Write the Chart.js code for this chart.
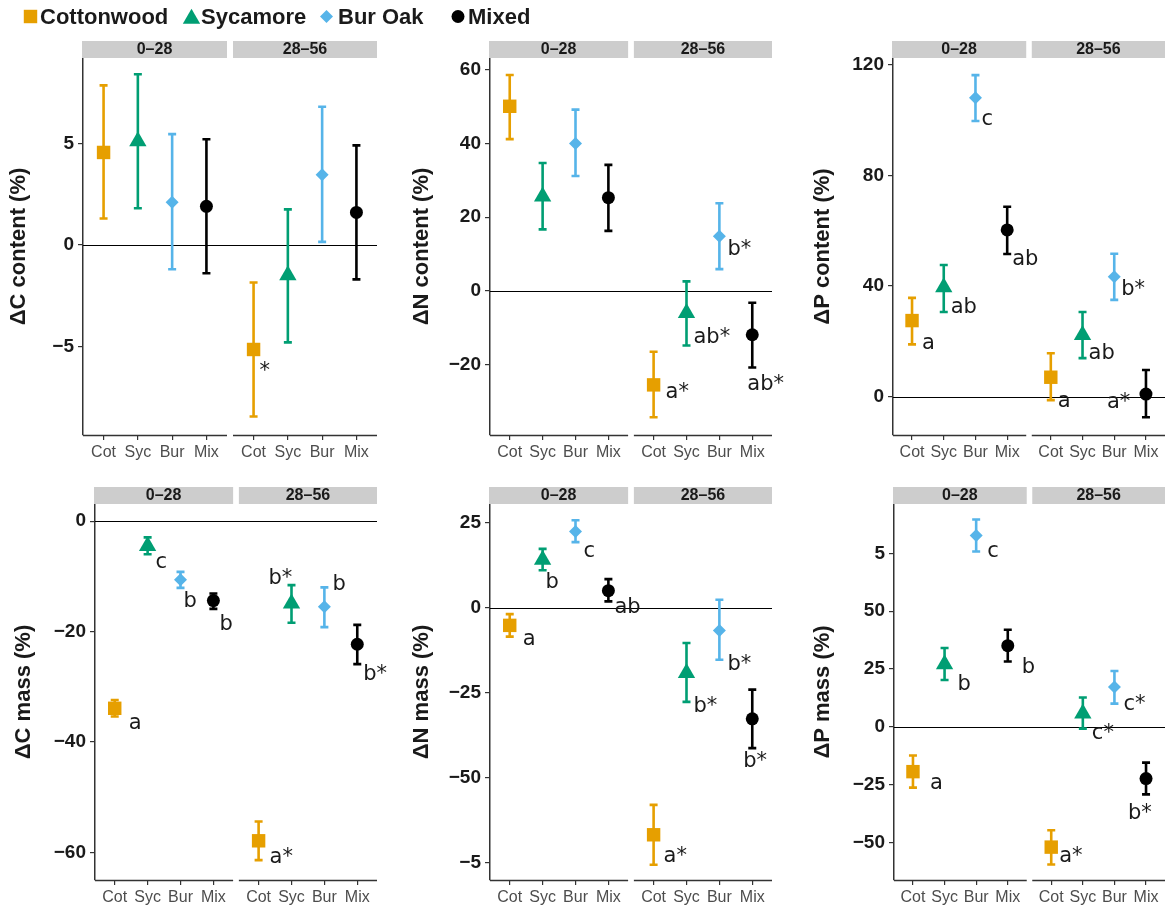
<!DOCTYPE html>
<html>
<head>
<meta charset="utf-8">
<title>Litter C, N, P change</title>
<script src="https://cdn.jsdelivr.net/npm/chart.js@4.4.1/dist/chart.umd.min.js"></script>
<style>
  html, body { margin: 0; padding: 0; background: #fff; }
  body { width: 1175px; height: 909px; position: relative; overflow: hidden; }
  canvas { position: absolute; }
  #legend { z-index: 5; left: 0; top: 0; }
</style>
</head>
<body>
<canvas id="legend" width="600" height="34"></canvas>
<canvas id="cContent"></canvas>
<canvas id="nContent"></canvas>
<canvas id="pContent"></canvas>
<canvas id="cMass"></canvas>
<canvas id="nMass"></canvas>
<canvas id="pMass"></canvas>
<script>
// categories and series
var categories = ['Cot', 'Syc', 'Bur', 'Mix'];
var facets = ['0–28', '28–56'];
var species = ['Cottonwood', 'Sycamore', 'Bur Oak', 'Mixed'];
var speciesColors = ['#E69F00', '#009E73', '#56B4E9', '#000000'];
var speciesShapes = ['rect', 'triangle', 'rectRot', 'circle'];
var speciesSizes = [9.5, 10, 6.5, 6.5];

// values: [facet 0–28, facet 28–56], each [Cot, Syc, Bur, Mix]
var cContentMean = [[4.55, 5.1, 2.1, 1.9], [-5.15, -1.5, 3.45, 1.6]];
var cContentLo = [[1.3, 1.8, -1.2, -1.4], [-8.45, -4.8, 0.15, -1.7]];
var cContentHi = [[7.85, 8.4, 5.45, 5.2], [-1.85, 1.75, 6.8, 4.9]];
var cContentLetters = [['', '', '', ''], ['*', '', '', '']];
var cContentTicks = [-5, 0, 5];
var cContentTickLabels = ['−5', '0', '5'];
var cContentRange = [-9.36, 9.2];

var nContentMean = [[50.1, 25.6, 40.0, 25.3], [-25.5, -6.0, 14.8, -11.9]];
var nContentLo = [[41.2, 16.7, 31.2, 16.3], [-34.3, -14.8, 5.9, -20.8]];
var nContentHi = [[58.6, 34.7, 49.2, 34.2], [-16.5, 2.6, 23.8, -3.2]];
var nContentLetters = [['', '', '', ''], ['a*', 'ab*', 'b*', 'ab*']];
var nContentTicks = [-20, 0, 20, 40, 60];
var nContentTickLabels = ['−20', '0', '20', '40', '60'];
var nContentRange = [-39.1, 63.2];

var pContentMean = [[27.5, 39.6, 108.1, 60.3], [7.0, 22.3, 43.4, 0.9]];
var pContentLo = [[18.9, 30.6, 99.7, 51.6], [-1.3, 13.9, 35.0, -7.5]];
var pContentHi = [[35.7, 47.6, 116.3, 68.7], [15.7, 30.6, 51.7, 9.6]];
var pContentLetters = [['a', 'ab', 'c', 'ab'], ['a', 'ab', 'b*', 'a*']];
var pContentTicks = [0, 40, 80, 120];
var pContentTickLabels = ['0', '40', '80', '120'];
var pContentRange = [-13.9, 122.5];

var cMassMean = [[-33.9, -4.5, -10.6, -14.4], [-57.9, -14.9, -15.5, -22.3]];
var cMassLo = [[-35.4, -6.0, -12.1, -15.9], [-61.4, -18.4, -19.2, -25.9]];
var cMassHi = [[-32.4, -2.95, -9.2, -13.1], [-54.4, -11.6, -12.0, -18.8]];
var cMassLetters = [['a', 'c', 'b', 'b'], ['a*', 'b*', 'b', 'b*']];
var cMassTicks = [-60, -40, -20, 0];
var cMassTickLabels = ['−60', '−40', '−20', '0'];
var cMassRange = [-65.0, 3.1];

var nMassMean = [[-5.1, 14.2, 22.5, 5.1], [-66.7, -19.1, -6.6, -32.6]];
var nMassLo = [[-8.4, 11.1, 19.4, 1.95], [-75.5, -27.6, -15.2, -41.2]];
var nMassHi = [[-1.8, 17.4, 25.8, 8.5], [-57.9, -10.3, 2.45, -24.0]];
var nMassLetters = [['a', 'b', 'c', 'ab'], ['a*', 'b*', 'b*', 'b*']];
var nMassTicks = [-75, -50, -25, 0, 25];
var nMassTickLabels = ['−5', '−50', '−25', '0', '25'];
var nMassRange = [-80.0, 30.6];

var pMassMean = [[-19.3, 27.1, 82.7, 35.1], [-51.9, 5.8, 17.3, -22.3]];
var pMassLo = [[-26.2, 20.3, 75.8, 28.3], [-59.4, -0.7, 10.1, -29.1]];
var pMassHi = [[-12.3, 34.1, 89.6, 42.0], [-44.6, 12.7, 24.2, -15.4]];
var pMassLetters = [['a', 'b', 'c', 'b'], ['a*', 'c*', 'c*', 'b*']];
var pMassTicks = [-50, -25, 0, 25, 50, 75];
var pMassTickLabels = ['−50', '−25', '0', '25', '50', '5'];
var pMassRange = [-66.1, 96.3];

// letter placement (px from the point: left edge, baseline)
var cContentLetterPos = [[[0,0],[0,0],[0,0],[0,0]], [[6,28],[0,0],[0,0],[0,0]]];
var nContentLetterPos = [[[0,0],[0,0],[0,0],[0,0]], [[12,13],[7,30],[8,19],[-5,55]]];
var pContentLetterPos = [[[10,28],[7,26],[6,27],[5,35]], [[7,30],[6,24],[7,18],[-39,14]]];
var cMassLetterPos = [[[14,21],[8,22],[3,27],[6,29]], [[11,22],[-23,-19],[8,-17],[6,36]]];
var nMassLetterPos = [[[13,20],[3,28],[8,25],[6,22]], [[10,27],[7,39],[8,40],[-9,48]]];
var pMassLetterPos = [[[17,17],[13,26],[11,22],[14,27]], [[8,15],[9,25],[9,23],[-18,40]]];

Chart.defaults.font.family = '"Liberation Sans", Arial, Helvetica, sans-serif';
Chart.defaults.animation = false;

// x: facet 1 spans 0.4..4.6, small gap, facet 2 spans 4.775..8.975
var facetShift = 4.375;
var xMin = 0.4, xMax = 8.975;
var facetEnd = 4.6, facetStart = 4.775;
var xTickValues = [];
facets.forEach(function(f, k) {
  categories.forEach(function(c, i) { xTickValues.push(i + 1 + k * facetShift); });
});

var panels = [
  {id: 'cContent', title: 'ΔC content (%)', mean: cContentMean, lo: cContentLo, hi: cContentHi, letters: cContentLetters, pos: cContentLetterPos, ticks: cContentTicks, tickLabels: cContentTickLabels, range: cContentRange,
   x: 0, y: 0, w: 395, h: 465, left: 83, right: 377, top: 58, bottom: 435, titleX: 19},
  {id: 'nContent', title: 'ΔN content (%)', mean: nContentMean, lo: nContentLo, hi: nContentHi, letters: nContentLetters, pos: nContentLetterPos, ticks: nContentTicks, tickLabels: nContentTickLabels, range: nContentRange,
   x: 395, y: 0, w: 410, h: 465, left: 490, right: 772, top: 58, bottom: 435, titleX: 422},
  {id: 'pContent', title: 'ΔP content (%)', mean: pContentMean, lo: pContentLo, hi: pContentHi, letters: pContentLetters, pos: pContentLetterPos, ticks: pContentTicks, tickLabels: pContentTickLabels, range: pContentRange,
   x: 800, y: 0, w: 375, h: 465, left: 893, right: 1175, top: 58, bottom: 435, titleX: 823},
  {id: 'cMass', title: 'ΔC mass (%)', mean: cMassMean, lo: cMassLo, hi: cMassHi, letters: cMassLetters, pos: cMassLetterPos, ticks: cMassTicks, tickLabels: cMassTickLabels, range: cMassRange,
   x: 0, y: 465, w: 395, h: 444, left: 95, right: 377, top: 504, bottom: 880, titleX: 24},
  {id: 'nMass', title: 'ΔN mass (%)', mean: nMassMean, lo: nMassLo, hi: nMassHi, letters: nMassLetters, pos: nMassLetterPos, ticks: nMassTicks, tickLabels: nMassTickLabels, range: nMassRange,
   x: 395, y: 465, w: 410, h: 444, left: 490, right: 772, top: 504, bottom: 880, titleX: 422},
  {id: 'pMass', title: 'ΔP mass (%)', mean: pMassMean, lo: pMassLo, hi: pMassHi, letters: pMassLetters, pos: pMassLetterPos, ticks: pMassTicks, tickLabels: pMassTickLabels, range: pMassRange,
   x: 800, y: 465, w: 375, h: 444, left: 894, right: 1175, top: 504, bottom: 880, titleX: 823}
];

// error bars, zero line, strips, x axis lines and letters
function makeDeco(p) {
  return {
    id: 'deco',
    beforeDatasetsDraw: function(chart) {
      var ctx = chart.ctx, a = chart.chartArea, ys = chart.scales.y;
      ctx.save();
      var y0 = Math.round(ys.getPixelForValue(0)) + 0.5;
      ctx.strokeStyle = '#000';
      ctx.lineWidth = 1.2;
      ctx.beginPath();
      ctx.moveTo(a.left, y0);
      ctx.lineTo(a.right, y0);
      ctx.stroke();
      chart.data.datasets.forEach(function(ds, s) {
        chart.getDatasetMeta(s).data.forEach(function(pt, k) {
          var yt = ys.getPixelForValue(p.hi[k][s]);
          var yb = ys.getPixelForValue(p.lo[k][s]);
          ctx.strokeStyle = ds.backgroundColor;
          ctx.lineWidth = 2.6;
          ctx.beginPath();
          ctx.moveTo(pt.x, yt); ctx.lineTo(pt.x, yb);
          ctx.moveTo(pt.x - 4, yt); ctx.lineTo(pt.x + 4, yt);
          ctx.moveTo(pt.x - 4, yb); ctx.lineTo(pt.x + 4, yb);
          ctx.stroke();
        });
      });
      ctx.restore();
    },
    afterDraw: function(chart) {
      var ctx = chart.ctx, a = chart.chartArea, xs = chart.scales.x, ys = chart.scales.y;
      ctx.save();
      var spans = [[xs.getPixelForValue(xMin) - 1, xs.getPixelForValue(facetEnd)],
                   [xs.getPixelForValue(facetStart), xs.getPixelForValue(xMax)]];
      // facet strips
      spans.forEach(function(sp, k) {
        ctx.fillStyle = '#cdcdcd';
        ctx.fillRect(sp[0], a.top - 17, sp[1] - sp[0], 17);
        ctx.fillStyle = '#1a1a1a';
        ctx.font = 'bold 16px "Liberation Sans", Arial, sans-serif';
        ctx.textAlign = 'center';
        ctx.textBaseline = 'middle';
        ctx.fillText(facets[k], (sp[0] + sp[1]) / 2, a.top - 8);
      });
      // x axis lines, one per facet
      ctx.strokeStyle = '#333';
      ctx.lineWidth = 1.5;
      ctx.beginPath();
      spans.forEach(function(sp, k) {
        ctx.moveTo(k === 0 ? a.left : sp[0], a.bottom + 0.5);
        ctx.lineTo(sp[1], a.bottom + 0.5);
      });
      ctx.stroke();
      // significance letters
      ctx.fillStyle = '#1a1a1a';
      ctx.font = '21px "DejaVu Sans", Verdana, sans-serif';
      ctx.textAlign = 'left';
      ctx.textBaseline = 'alphabetic';
      chart.data.datasets.forEach(function(ds, s) {
        chart.getDatasetMeta(s).data.forEach(function(pt, k) {
          var txt = p.letters[k][s];
          if (!txt) return;
          ctx.fillText(txt, pt.x + p.pos[k][s][0], pt.y + p.pos[k][s][1]);
        });
      });
      ctx.restore();
    }
  };
}

function drawPanel(p) {
  var canvas = document.getElementById(p.id);
  canvas.width = p.w;
  canvas.height = p.h;
  canvas.style.left = p.x + 'px';
  canvas.style.top = p.y + 'px';

  var datasets = species.map(function(name, s) {
    return {
      label: name,
      data: facets.map(function(f, k) { return {x: s + 1 + k * facetShift, y: p.mean[k][s]}; }),
      backgroundColor: speciesColors[s],
      pointStyle: speciesShapes[s],
      pointRadius: speciesSizes[s],
      pointHoverRadius: speciesSizes[s],
      pointBorderWidth: 0
    };
  });

  new Chart(canvas, {
    type: 'scatter',
    data: {datasets: datasets},
    plugins: [makeDeco(p)],
    options: {
      responsive: false,
      events: [],
      clip: false,
      layout: {padding: {top: p.top - p.y, right: p.x + p.w - p.right, left: 0, bottom: 0}},
      plugins: {legend: {display: false}, tooltip: {enabled: false}},
      scales: {
        x: {
          type: 'linear',
          min: xMin,
          max: xMax,
          afterBuildTicks: function(s) { s.ticks = xTickValues.map(function(v) { return {value: v}; }); },
          afterFit: function(s) { s.height = p.y + p.h - p.bottom; },
          ticks: {
            callback: function(v, i) { return categories[i % categories.length]; },
            font: {size: 16},
            color: '#4d4d4d',
            padding: 3,
            autoSkip: false,
            maxRotation: 0
          },
          grid: {drawOnChartArea: false, drawTicks: true, tickLength: 5, color: '#333', lineWidth: 1.2},
          border: {display: false}
        },
        y: {
          min: p.range[0],
          max: p.range[1],
          afterBuildTicks: function(s) { s.ticks = p.ticks.map(function(v) { return {value: v}; }); },
          afterFit: function(s) { s.width = p.left - p.x; },
          ticks: {
            callback: function(v, i) { return p.tickLabels[i]; },
            font: {size: 19, weight: 'bold'},
            color: '#1a1a1a',
            padding: 4
          },
          grid: {drawOnChartArea: false, drawTicks: true, tickLength: 5, color: '#333', lineWidth: 1.2},
          border: {display: true, color: '#333', width: 1.5},
          title: {
            display: true,
            text: p.title,
            font: {size: 22, weight: 'bold'},
            color: '#1a1a1a',
            padding: {top: p.titleX - p.x - 13.2, bottom: 0}
          }
        }
      }
    }
  });
}

panels.forEach(drawPanel);

// legend across the top
(function() {
  var ctx = document.getElementById('legend').getContext('2d');
  var markX = [30.5, 191.5, 326.5, 458];
  var markY = [16.5, 18.8, 16.5, 16.5];
  var textX = [40, 201, 338, 468];
  species.forEach(function(name, s) {
    ctx.fillStyle = speciesColors[s];
    Chart.helpers.drawPoint(ctx, {pointStyle: speciesShapes[s], radius: speciesSizes[s], rotation: 0, borderWidth: 0}, markX[s], markY[s]);
    ctx.fillStyle = '#1a1a1a';
    ctx.font = 'bold 22px "Liberation Sans", Arial, sans-serif';
    ctx.textBaseline = 'alphabetic';
    ctx.fillText(name, textX[s], 24);
  });
})();
</script>
</body>
</html>
